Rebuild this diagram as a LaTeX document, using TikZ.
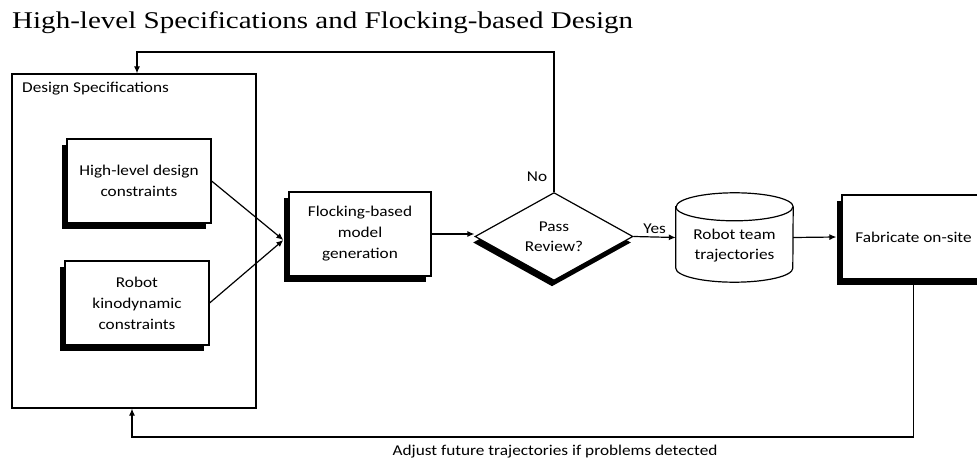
\documentclass[tikz,border=0pt]{standalone}
\usepackage{fontspec}
\setmainfont{Carlito}[FakeStretch=1.15]
\newfontfamily\titlefont{Liberation Serif}[FakeStretch=1.21]
\usetikzlibrary{shapes.geometric,shadows,arrows.meta,calc}

\begin{document}
\begin{tikzpicture}[x=1pt,y=-1pt,
  txt/.style={font=\fontsize{15}{21}\selectfont, inner sep=0pt},
  frame/.style={draw, line width=1.2pt},
  box/.style={frame, fill=white, txt, align=center},
  shadowed/.style={drop shadow={shadow xshift=-5pt, shadow yshift=-6pt, fill=black, opacity=1}},
  stepbox/.style={box, shadowed, minimum height=84pt},
  arr/.style={line width=1.2pt, -{Latex[length=7pt,width=6pt]}}
]
\useasboundingbox (0,0) rectangle (977,465);
\clip (0,0) rectangle (977,465);

% title
\node[anchor=base west, inner sep=0pt, font=\titlefont\fontsize{24}{28}\selectfont]
  (title) at (12,29) {High-level Specifications and Flocking-based Design};

% design specification group
\node[frame, minimum width=244pt, minimum height=334pt, inner sep=0pt] (spec) at (134,241) {};
\node[txt, anchor=base west] (speclbl) at (22,93) {Design Specifications};

\node[stepbox, minimum width=144pt] (hl)  at (139,181) {High-level design\\constraints};
\node[stepbox, minimum width=144pt] (rob) at (137,303) {Robot\\kinodynamic\\constraints};

% model generation and review
\node[stepbox, minimum width=142pt] (flock) at (360,234) {Flocking-based\\model\\generation};
\node[diamond, box, minimum width=158pt, minimum height=87pt, inner sep=0pt,
      font=\fontsize{15}{20}\selectfont,
      drop shadow={shadow xshift=-2pt, shadow yshift=-6pt, fill=black, opacity=1}]
  (dia) at (554,236.5) {Pass\\Review?};

% trajectory store (cylinder)
\node[minimum width=117pt, minimum height=89pt, inner sep=0pt] (cyl) at (734.5,237.5) {};
\draw[frame, fill=white]
  ($(cyl.north west)+(0,14)$) -- ($(cyl.south west)+(0,-14)$)
  arc[start angle=180, end angle=360, x radius=58.5pt, y radius=14pt]
  -- ($(cyl.north east)+(0,14)$)
  arc[start angle=0, end angle=180, x radius=58.5pt, y radius=14pt] -- cycle;
\draw[frame] ($(cyl.north west)+(0,14)$)
  arc[start angle=180, end angle=360, x radius=58.5pt, y radius=14pt];
\node[txt, align=center, font=\fontsize{15}{20}\selectfont] (cyltxt) at ($(cyl.center)+(0,8)$) {Robot team\\trajectories};

% fabrication
\node[stepbox, minimum width=143pt] (fab) at (913.5,237) {Fabricate on-site};

% connectors
\coordinate (fin) at ($(flock.west)+(-5,6)$);
\draw[arr] (hl.east) -- (fin);
\draw[arr] (rob.east) -- (fin);
\draw[arr] (flock.east) -- (flock.east -| dia.west);
\draw[arr] (dia.east) -- (cyl.west) node[midway, above=3pt, txt] (yes) {Yes};
\draw[arr] (cyl.east) -- ($(fab.west)+(-5,0)$);

\coordinate (fbtop) at (137,52);
\draw[arr] (dia.north) |- (fbtop) -- (fbtop |- spec.north);
\node[txt] (no) at (537,177) {No};

\coordinate (fbbot) at (132,437);
\draw[arr] (fab.south) |- (fbbot) -- (fbbot |- spec.south);
\node[txt] (adj) at (555,452) {Adjust future trajectories if problems detected};
\end{tikzpicture}
\end{document}
